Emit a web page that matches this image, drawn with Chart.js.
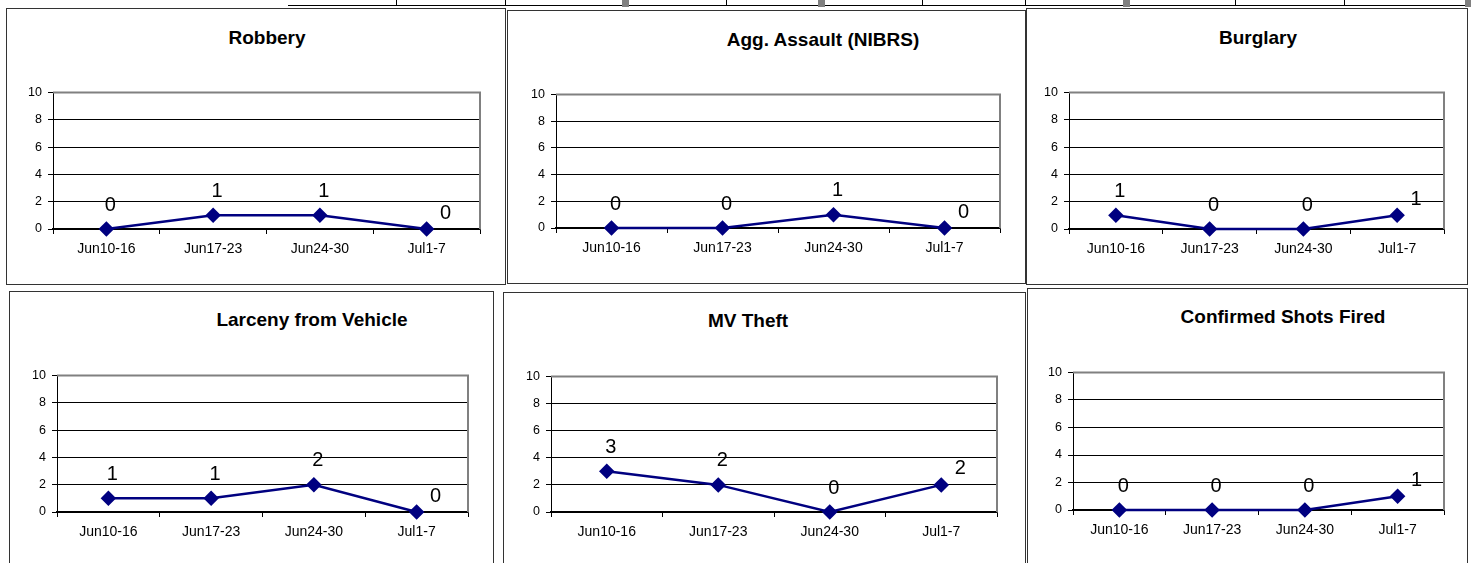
<!DOCTYPE html>
<html>
<head>
<meta charset="utf-8">
<title>Weekly crime charts</title>
<script src="https://cdn.jsdelivr.net/npm/chart.js@4/dist/chart.umd.min.js"></script>
<style>
  html, body { margin: 0; padding: 0; background: #fff; }
  body { width: 1471px; height: 563px; position: relative; overflow: hidden; font-family: "Liberation Sans", Arial, sans-serif; }
  .panel { position: absolute; border: 1px solid #333; box-sizing: border-box; background: #fff; }
  .title { position: absolute; font-weight: bold; font-size: 19px; color: #000; white-space: nowrap; transform: translate(-50%, -50%); }
  canvas { position: absolute; }
  .rule { position: absolute; background: #000; }
  .rule.gray { background: #808080; }
</style>
</head>
<body>

<!-- bits of the table above the charts -->
<div class="rule" style="left:288px; top:5px; width:1183px; height:1px;"></div>
<div class="rule" style="left:396px; top:0; width:1px; height:6px;"></div>
<div class="rule" style="left:505px; top:0; width:1px; height:6px;"></div>
<div class="rule gray" style="left:622px; top:0; width:7px; height:7px;"></div>
<div class="rule" style="left:726px; top:0; width:1px; height:6px;"></div>
<div class="rule gray" style="left:818px; top:0; width:7px; height:7px;"></div>
<div class="rule" style="left:922px; top:0; width:1px; height:6px;"></div>
<div class="rule" style="left:1025px; top:0; width:1px; height:6px;"></div>
<div class="rule gray" style="left:1123px; top:0; width:7px; height:7px;"></div>
<div class="rule" style="left:1235px; top:0; width:1px; height:6px;"></div>
<div class="rule" style="left:1344px; top:0; width:1px; height:6px;"></div>
<div class="rule gray" style="left:1465px; top:0; width:6px; height:7px;"></div>

<script>
// --- DATA ---
const weeks = ['Jun10-16', 'Jun17-23', 'Jun24-30', 'Jul1-7'];
const yTicks = [0, 2, 4, 6, 8, 10];

const robbery = [0, 1, 1, 0];
const aggAssault = [0, 0, 1, 0];
const burglary = [1, 0, 0, 1];
const larcenyFromVehicle = [1, 1, 2, 0];
const mvTheft = [3, 2, 0, 2];
const shotsFired = [0, 0, 0, 1];

const titles = ['Robbery', 'Agg. Assault (NIBRS)', 'Burglary', 'Larceny from Vehicle', 'MV Theft', 'Confirmed Shots Fired'];
const series = [robbery, aggAssault, burglary, larcenyFromVehicle, mvTheft, shotsFired];

// --- LAYOUT (page pixels) ---
// box = panel frame, plot = chart area, title = centre of the heading
const panels = [
  { box: [6, 8, 506, 285],     plot: [53, 91, 480, 229],     title: [267, 38] },
  { box: [507, 10, 1026, 284], plot: [556, 93, 1000, 228],   title: [823, 40] },
  { box: [1026, 8, 1468, 285], plot: [1069, 91, 1444, 229],  title: [1258, 38] },
  { box: [9, 291, 494, 580],   plot: [57, 374, 468, 512],    title: [312, 320] },
  { box: [503, 292, 1026, 580], plot: [551, 375, 997, 512],  title: [748, 321] },
  { box: [1027, 288, 1468, 580], plot: [1073, 371, 1444, 510], title: [1283, 317] }
];

// value labels sit above each point, the last one is pushed up-right
const valueLabels = {
  id: 'valueLabels',
  afterDatasetsDraw(chart) {
    const ctx = chart.ctx;
    const meta = chart.getDatasetMeta(0);
    const values = chart.data.datasets[0].data;
    ctx.save();
    ctx.font = '20px "Liberation Sans", Arial, sans-serif';
    ctx.fillStyle = '#000';
    ctx.textAlign = 'center';
    ctx.textBaseline = 'middle';
    meta.data.forEach((pt, i) => {
      const last = i === values.length - 1;
      ctx.fillText(String(values[i]), pt.x + (last ? 19 : 4), pt.y + (last ? -16 : -24));
    });
    ctx.restore();
  }
};

// grey frame on the top/right of the plot area
const plotFrame = {
  id: 'plotFrame',
  beforeDatasetsDraw(chart) {
    const { ctx, chartArea: a } = chart;
    ctx.save();
    ctx.strokeStyle = '#808080';
    ctx.lineWidth = 2;
    ctx.beginPath();
    ctx.moveTo(a.left, a.top);
    ctx.lineTo(a.right, a.top);
    ctx.lineTo(a.right, a.bottom);
    ctx.stroke();
    ctx.restore();
  }
};

document.addEventListener('DOMContentLoaded', () => {
  panels.forEach((p, idx) => {
    const [bl, bt, br, bb] = p.box;
    const [pl, pt, pr, pb] = p.plot;

    // 1. panel frame + heading
    const frame = document.createElement('div');
    frame.className = 'panel';
    frame.style.left = bl + 'px';
    frame.style.top = bt + 'px';
    frame.style.width = (br - bl) + 'px';
    frame.style.height = (bb - bt) + 'px';
    document.body.appendChild(frame);

    const head = document.createElement('div');
    head.className = 'title';
    head.textContent = titles[idx];
    head.style.left = p.title[0] + 'px';
    head.style.top = p.title[1] + 'px';
    document.body.appendChild(head);

    // 2. canvas sized around the plot area
    const cl = bl + 2, ct = pt - 12, cr = pr + 22, cb = Math.min(pb + 45, 562);
    const canvas = document.createElement('canvas');
    canvas.width = cr - cl;
    canvas.height = cb - ct;
    canvas.style.left = cl + 'px';
    canvas.style.top = ct + 'px';
    canvas.style.width = (cr - cl) + 'px';
    canvas.style.height = (cb - ct) + 'px';
    document.body.appendChild(canvas);

    const yWidth = pl - cl;
    const xHeight = cb - pb;

    new Chart(canvas, {
      type: 'line',
      data: {
        labels: weeks,
        datasets: [{
          data: series[idx],
          borderColor: '#000080',
          backgroundColor: '#000080',
          borderWidth: 2.5,
          pointStyle: 'rectRot',
          pointRadius: 6,
          pointHoverRadius: 6,
          tension: 0,
          clip: false
        }]
      },
      options: {
        responsive: false,
        animation: false,
        devicePixelRatio: 1,
        layout: { padding: { top: 12, right: cr - pr, left: 0, bottom: 0 } },
        plugins: { legend: { display: false }, tooltip: { enabled: false }, title: { display: false } },
        scales: {
          x: {
            offset: true,
            grid: { offset: true, drawOnChartArea: false, drawTicks: true, tickLength: 5, color: '#000' },
            border: { color: '#000', width: 1.5 },
            ticks: { color: '#000', padding: 7, maxRotation: 0, font: { family: '"Liberation Sans", Arial, sans-serif', size: 14 } },
            afterFit: scale => { scale.height = xHeight; }
          },
          y: {
            min: yTicks[0],
            max: yTicks[yTicks.length - 1],
            afterBuildTicks: scale => { scale.ticks = yTicks.map(v => ({ value: v })); },
            grid: {
              color: c => (c.tick && c.tick.value === 10 ? 'rgba(0,0,0,0)' : '#000'),
              lineWidth: 1,
              tickColor: '#000',
              tickLength: 5
            },
            border: { color: '#000', width: 1 },
            ticks: { color: '#000', padding: 6, font: { family: '"Liberation Sans", Arial, sans-serif', size: 12.5 } },
            afterFit: scale => { scale.width = yWidth; }
          }
        }
      },
      plugins: [plotFrame, valueLabels]
    });
  });
});
</script>
</body>
</html>
